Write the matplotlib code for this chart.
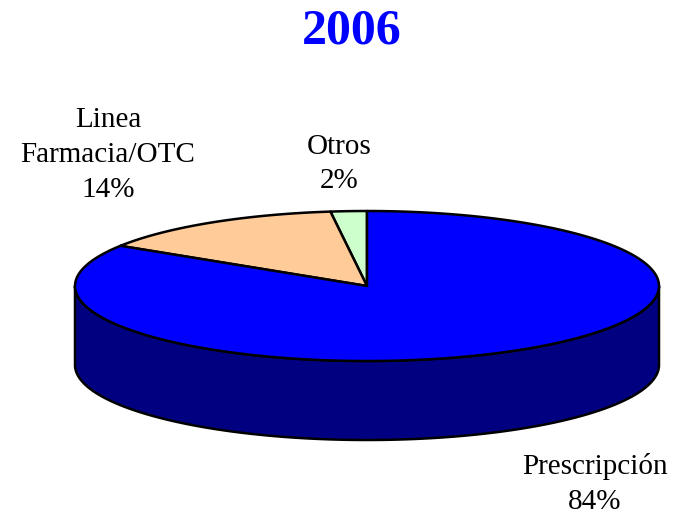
import numpy as np
import matplotlib.pyplot as plt
from matplotlib.patches import Polygon

plt.rcParams['font.family'] = ['Liberation Serif', 'DejaVu Serif']

title = '2006'
labels = ['Otros', 'Linea\nFarmacia/OTC', 'Prescripción']
values = [2, 14, 84]
top_colors = ['#CCFFCC', '#FFCC99', '#0000FF']
side_colors = ['#66806A', '#80664D', '#000080']
label_pos = [(339, 164), (108, 155), (595, 484)]

# pie geometry in pixel space
cx, cy = 367, 286
rx, ry = 292, 75
depth = 79


def arc(a0, a1, dy=0, n=200):
    t = np.radians(np.linspace(a0, a1, n))
    return np.column_stack([cx + rx * np.cos(t), cy - ry * np.sin(t) + dy])


fig = plt.figure(figsize=(6.75, 5.14), dpi=100)
ax = fig.add_axes([0, 0, 1, 1])
ax.set_xlim(0, 675)
ax.set_ylim(514, 0)
ax.axis('off')

fracs = np.array(values) / sum(values)
starts = 90 + 360 * np.concatenate([[0], np.cumsum(fracs)[:-1]])
ends = starts + 360 * fracs

# side walls (only the front half, 180..360 deg, is visible)
for s, e, c in zip(starts, ends, side_colors):
    for off in (0, 360):
        a0 = max(s, 180 + off)
        a1 = min(e, 360 + off)
        if a1 > a0:
            top = arc(a0, a1)
            bot = arc(a1, a0, depth)
            ax.add_patch(Polygon(np.vstack([top, bot]), closed=True,
                                 facecolor=c, edgecolor='black', lw=1.8,
                                 joinstyle='round'))

# top face
for s, e, c in zip(starts, ends, top_colors):
    pts = np.vstack([[cx, cy], arc(s, e)])
    ax.add_patch(Polygon(pts, closed=True, facecolor=c, edgecolor='black',
                         lw=1.8, joinstyle='round'))

for lab, v, (x, y) in zip(labels, values, label_pos):
    ax.text(x, y, f'{lab}\n{v}%', ha='center', va='center', fontsize=21,
            linespacing=1.45)

ax.text(352, 31, title, ha='center', va='center', fontsize=36,
        color='#0000FF', fontweight='bold')

fig.savefig('out.png', dpi=100)
